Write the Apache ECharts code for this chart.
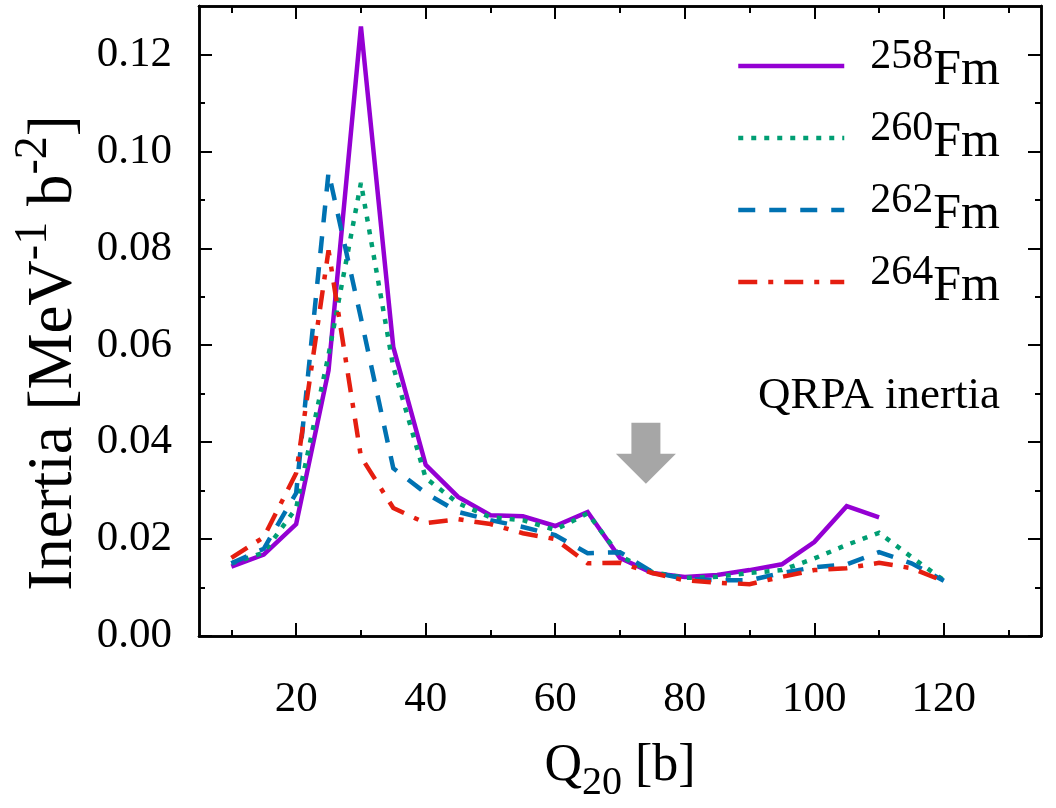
<!DOCTYPE html>
<html>
<head>
<meta charset="utf-8">
<script src="https://cdn.jsdelivr.net/npm/echarts@6/dist/echarts.min.js"></script>
<style>
  html, body { margin: 0; padding: 0; background: #fff; }
  #chart { width: 1056px; height: 808px; }
</style>
</head>
<body>
<div id="chart"></div>
<script>
// Quadrupole moment grid, Q20 in barn
const Q20 = [10, 15, 20, 25, 30, 35, 40, 45, 50, 55, 60, 65, 70, 75, 80, 85, 90, 95, 100, 105, 110, 115, 120];

// QRPA collective inertia, MeV^-1 b^-2, one list per isotope
const FM258 = [0.0143, 0.0168, 0.0231, 0.0548, 0.1258, 0.0596, 0.0353, 0.0287, 0.0249, 0.0247, 0.0227, 0.0256,
               0.0161, 0.0130, 0.0122, 0.0126, 0.0136, 0.0148, 0.0194, 0.0268, 0.0245, null, null];
const FM260 = [0.0150, 0.0172, 0.0264, 0.0580, 0.0935, 0.0555, 0.0326, 0.0274, 0.0245, 0.0239, 0.0219, 0.0253,
               0.0165, 0.0132, 0.0120, 0.0122, 0.0130, 0.0136, 0.0160, 0.0188, 0.0213, 0.0163, 0.0115];
const FM262 = [0.0150, 0.0180, 0.0295, 0.0957, 0.0656, 0.0346, 0.0295, 0.0256, 0.0239, 0.0225, 0.0208, 0.0171,
               0.0173, 0.0132, 0.0118, 0.0115, 0.0115, 0.0130, 0.0142, 0.0148, 0.0173, 0.0150, 0.0114];
const FM264 = [0.0161, 0.0204, 0.0336, 0.0796, 0.0370, 0.0264, 0.0233, 0.0241, 0.0231, 0.0212, 0.0200, 0.0150,
               0.0151, 0.0130, 0.0115, 0.0110, 0.0107, 0.0122, 0.0136, 0.0140, 0.0151, 0.0140, 0.0113];

const MASS_NUMBERS = ['258', '260', '262', '264'];

// Axis ticks
const X_MAJOR = [20, 40, 60, 80, 100, 120];
const X_MINOR = [10, 30, 50, 70, 90, 110, 130];
const Y_MAJOR = [0.00, 0.02, 0.04, 0.06, 0.08, 0.10, 0.12];
const Y_MINOR = [0.01, 0.03, 0.05, 0.07, 0.09, 0.11];

// Position of the downward arrow marker (data coordinates of its tip)
const ARROW_TIP = [74, 0.0314];

const FONT = 'Liberation Serif';
const INK = '#000';
const LINE_W = 4.5;

const chart = echarts.init(document.getElementById('chart'), null, { renderer: 'canvas' });

const styles = [
  { color: '#9400d3', type: 'solid' },
  { color: '#009e73', type: [5, 8] },
  { color: '#0072b2', type: [17, 14] },
  { color: '#e51e10', type: [19, 11, 5, 11] }
];
const seriesValues = [FM258, FM260, FM262, FM264];

function pairs(vals) {
  const out = [];
  Q20.forEach((q, i) => { if (vals[i] !== null) out.push([q, vals[i]]); });
  return out;
}

function xAxisDef(pos, ticks, len, labels) {
  return {
    type: 'value', position: pos, min: 5, max: 135,
    axisLine: { show: true, onZero: false, lineStyle: { color: INK, width: 2.5 } },
    axisTick: { show: true, inside: true, length: len, customValues: ticks, lineStyle: { color: INK, width: 2 } },
    axisLabel: labels ? {
      show: true, customValues: ticks, margin: 42, color: INK,
      fontFamily: FONT, fontSize: 43, formatter: v => String(v)
    } : { show: false },
    splitLine: { show: false }
  };
}
function yAxisDef(pos, ticks, len, labels) {
  return {
    type: 'value', position: pos, min: 0, max: 0.13,
    axisLine: { show: true, onZero: false, lineStyle: { color: INK, width: 2.5 } },
    axisTick: { show: true, inside: true, length: len, customValues: ticks, lineStyle: { color: INK, width: 2 } },
    axisLabel: labels ? {
      show: true, customValues: ticks, margin: 27, color: INK,
      fontFamily: FONT, fontSize: 43, formatter: v => v.toFixed(2)
    } : { show: false },
    splitLine: { show: false }
  };
}

const xAxes = [
  xAxisDef('bottom', X_MAJOR, 13, true),
  xAxisDef('bottom', X_MINOR, 6, false),
  xAxisDef('top', X_MAJOR, 13, false),
  xAxisDef('top', X_MINOR, 7, false)
];
xAxes[0].name = '{m|Q}{s|20}{m| [b]}';
xAxes[0].nameLocation = 'middle';
xAxes[0].nameGap = 104;
xAxes[0].nameTextStyle = {
  color: INK, fontFamily: FONT,
  rich: {
    m: { fontFamily: FONT, fontSize: 52, color: INK, verticalAlign: 'top', lineHeight: 52 },
    s: { fontFamily: FONT, fontSize: 40, color: INK, verticalAlign: 'bottom', lineHeight: 63 }
  }
};

const yAxes = [
  yAxisDef('left', Y_MAJOR, 13, true),
  yAxisDef('left', Y_MINOR, 6, false),
  yAxisDef('right', Y_MAJOR, 13, false),
  yAxisDef('right', Y_MINOR, 6, false)
];
yAxes[0].name = '{m|Inertia [MeV}{s|-1}{m| b}{s|-2}{e|]}';
yAxes[0].nameLocation = 'middle';
yAxes[0].nameGap = 110;
yAxes[0].nameTextStyle = {
  color: INK, fontFamily: FONT,
  rich: {
    m: { fontFamily: FONT, fontSize: 63, color: INK, verticalAlign: 'bottom', lineHeight: 75 },
    s: { fontFamily: FONT, fontSize: 46, color: INK, verticalAlign: 'top', lineHeight: 46 },
    e: { fontFamily: FONT, fontSize: 63, color: INK, verticalAlign: 'bottom', lineHeight: 75, padding: [0, 64, 0, 0] }
  }
};

const series = MASS_NUMBERS.map((a, k) => ({
  name: a + 'Fm',
  type: 'line',
  xAxisIndex: 0,
  yAxisIndex: 0,
  data: pairs(seriesValues[k]),
  symbol: 'none',
  smooth: false,
  clip: false,
  color: styles[k].color,
  lineStyle: { color: styles[k].color, width: LINE_W, type: styles[k].type, cap: 'butt', join: 'miter', miterLimit: 3 },
  emphasis: { disabled: true }
}));

chart.setOption({
  animation: false,
  backgroundColor: '#fff',
  grid: { left: 199, right: 15, top: 6, bottom: 172, containLabel: false },
  xAxis: xAxes,
  yAxis: yAxes,
  legend: {
    orient: 'vertical',
    left: 736,
    top: 36,
    padding: 0,
    itemWidth: 106,
    itemHeight: 14,
    itemGap: 12,
    selectedMode: false,
    data: MASS_NUMBERS.map(a => a + 'Fm'),
    itemStyle: { opacity: 0, borderWidth: 0 },
    lineStyle: { width: LINE_W },
    formatter: name => '{sup|' + name.slice(0, 3) + '}{el|Fm}',
    textStyle: {
      color: INK, fontFamily: FONT,
      rich: {
        sup: { fontFamily: FONT, fontSize: 42, color: INK, verticalAlign: 'top', lineHeight: 42, padding: [0, 0, 0, 21] },
        el: { fontFamily: FONT, fontSize: 50, color: INK, verticalAlign: 'bottom', lineHeight: 60 }
      }
    }
  },
  series: series
});

// Annotation: label and arrow marker
const tip = chart.convertToPixel({ xAxisIndex: 0, yAxisIndex: 0 }, ARROW_TIP);
const headW = 30, headH = 30, shaftW = 14.5, shaftH = 31;
chart.setOption({
  graphic: [
    {
      type: 'polygon',
      shape: {
        points: [
          [tip[0], tip[1]],
          [tip[0] - headW, tip[1] - headH],
          [tip[0] - shaftW, tip[1] - headH],
          [tip[0] - shaftW, tip[1] - headH - shaftH],
          [tip[0] + shaftW, tip[1] - headH - shaftH],
          [tip[0] + shaftW, tip[1] - headH],
          [tip[0] + headW, tip[1] - headH]
        ]
      },
      style: { fill: '#a6a6a6' },
      z: 50
    },
    {
      type: 'text',
      right: 56,
      top: 374,
      style: { text: 'QRPA inertia', fontFamily: FONT, fontSize: 45, fill: INK },
      z: 50
    }
  ]
});
</script>
</body>
</html>
